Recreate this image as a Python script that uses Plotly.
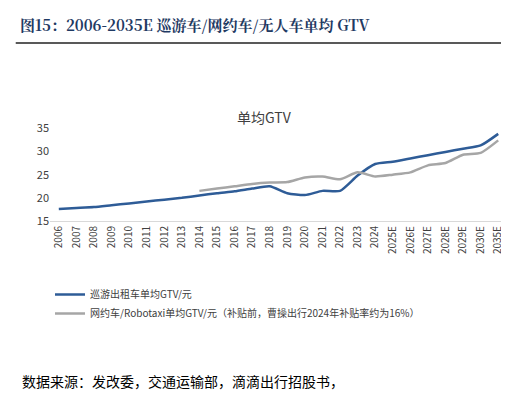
import plotly.graph_objects as go

categories = [str(y) for y in range(2006, 2025)] + ["2025E","2026E","2027E","2028E","2029E","2030E","2035E"]
taxi = [17.6,17.8,18.0,18.4,18.8,19.2,19.6,20.0,20.5,21.0,21.4,22.0,22.5,21.0,20.6,21.5,21.5,24.8,27.3,27.8,28.5,29.2,29.9,30.6,31.3,33.8]
ride_cats = categories[8:]
ride = [21.5,22.0,22.5,23.0,23.3,23.4,24.4,24.6,24.0,25.5,24.6,25.0,25.5,27.0,27.5,29.3,29.7,32.4]

fig = go.Figure()
fig.add_trace(go.Scatter(x=categories, y=taxi, mode="lines", line=dict(color="#2e5c97", width=2.5, shape="spline", smoothing=0.6),
                         name="巡游出租车单均GTV/元"))
fig.add_trace(go.Scatter(x=ride_cats, y=ride, mode="lines", line=dict(color="#a6a6a6", width=2.5, shape="spline", smoothing=0.6),
                         name="网约车/Robotaxi单均GTV/元（补贴前，曹操出行2024年补贴率约为16%）"))

font = "Noto Sans CJK SC"
H = 401 - 118 - 188
def py(pix):
    return (401 - 188 - pix) / H

fig.update_layout(
    width=509, height=401, paper_bgcolor="white", plot_bgcolor="white",
    margin=dict(l=42, r=10, t=118, b=188),
    font=dict(family=font, size=10, color="#404040"),
    xaxis=dict(type="category", tickangle=-90, showgrid=False, showline=True, linecolor="#d9d9d9",
               ticks="", tickfont=dict(size=10, color="#404040"), categoryarray=categories, categoryorder="array",
               range=[-0.5, 25.5]),
    yaxis=dict(range=[15, 35.5], tickvals=[15,20,25,30,35], showgrid=False, showline=False, zeroline=False,
               tickfont=dict(size=11, color="#404040")),
    legend=dict(x=0.0, y=py(272), xanchor="left", yanchor="top", orientation="v", font=dict(size=10, color="#404040"),
                tracegroupgap=8),
    showlegend=True,
)
fig.add_annotation(text="<b>图15：2006-2035E 巡游车/网约车/无人车单均 GTV</b>", x=-0.07, y=py(16), xref="paper", yref="paper",
                   xanchor="left", yanchor="middle", showarrow=False, font=dict(family="Noto Serif CJK SC, "+font, size=15, color="#1f3a63"))
fig.add_shape(type="line", xref="paper", yref="paper", x0=-0.075, x1=0.995, y0=py(35), y1=py(35), line=dict(color="#222222", width=1.5))
fig.add_annotation(text="单均GTV", xref="paper", yref="paper", x=0.47, y=py(97), showarrow=False, font=dict(size=14, color="#404040"))
fig.add_annotation(text="数据来源：发改委，交通运输部，滴滴出行招股书，", xref="paper", yref="paper", x=-0.065, y=py(385),
                   xanchor="left", showarrow=False, font=dict(size=14, color="#000000"))
fig.write_html("out.html")
